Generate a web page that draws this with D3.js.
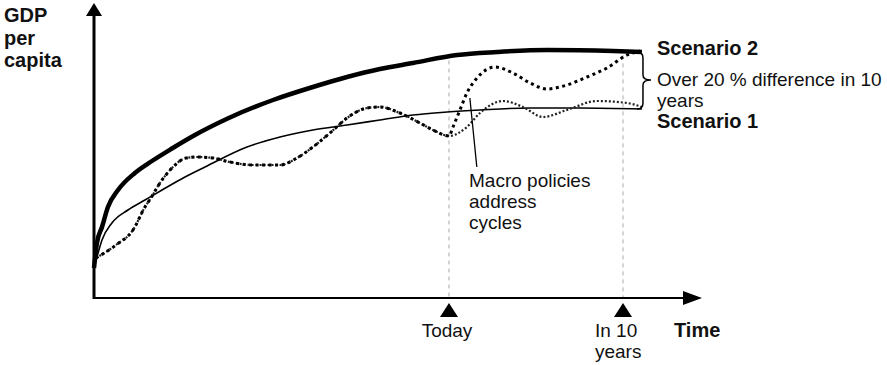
<!DOCTYPE html>
<html>
<head>
<meta charset="utf-8">
<script src="https://cdn.jsdelivr.net/npm/d3@7"></script>
<style>
  html, body { margin: 0; padding: 0; background: #fff; }
  svg { display: block; font-family: "Liberation Sans", Arial, sans-serif; }
</style>
</head>
<body>
<svg id="chart" width="887" height="365"></svg>
<script>
// Time in years relative to today; GDP per capita as an index.
const scenario2Time = [-20.4, -20.23, -19.94, -19.6, -19.02, -18.05, -17.07, -15.92, -14.6, -12.59, -10.11, -7.82, -5.86, -3.97, -2.07, 0.46, 2.76, 5.63, 9.43, 11.09];
const scenario2Gdp  = [12, 22, 28.4, 36.4, 43.2, 50, 54.8, 59.8, 65.2, 72.2, 79.2, 84.4, 88.4, 91.6, 94, 97.2, 98.4, 99.2, 98.8, 98.4];

const scenario1Time = [-20.4, -20.23, -19.94, -19.37, -18.45, -17.47, -16.49, -15.17, -14.02, -11.61, -9.71, -7.82, -5.86, -3.97, -2.07, -0.11, 1.78, 4.66, 7.53, 11.09];
const scenario1Gdp  = [12, 16.4, 23.2, 30, 35.2, 39.2, 43.2, 48.4, 52.4, 60.4, 64.4, 67.2, 69.2, 71.2, 73.2, 74.4, 75.2, 76, 76, 75.6];

// Actual cyclical path up to today (shared by both scenarios)
const pastCycleTime = [-20.29, -19.14, -18.16, -17.47, -17.13, -16.61, -15.86, -15.11, -14.43, -13.56, -12.59, -11.26, -9.71, -8.74, -7.82, -6.84, -5.86, -4.71, -3.97, -2.82, -1.67, -0.92, 0];
const pastCycleGdp  = [16, 21.2, 27.2, 36.4, 40, 46, 52.4, 56, 56.4, 56, 54.4, 53.2, 53.2, 56, 60.4, 66, 72, 76, 76.4, 74, 70, 67.2, 64.8];

// Cycle paths after today
const cycle2Time = [0, 0.23, 0.63, 1.03, 1.61, 2.64, 3.68, 4.66, 5.63, 6.78, 7.93, 9.08, 10.23, 10.98];
const cycle2Gdp  = [64.8, 68.4, 75.2, 82, 88, 92.4, 90, 86, 83.6, 85.2, 88.4, 92, 97.2, 98.8];
const cycle1Time = [0, 1.03, 1.78, 3.1, 4.25, 5.4, 6.78, 8.51, 10.23, 11.09];
const cycle1Gdp  = [64.8, 68.4, 74, 78.8, 76.4, 72.4, 75.2, 78.8, 78, 76.4];

// Axis markers
const markerTimes = [0, 10];
const markerLabels = [["Today"], ["In 10", "years"]];

const svg = d3.select("#chart");
const x = d3.scaleLinear().domain([-20.4, 14.54]).range([94, 702]);
const y = d3.scaleLinear().domain([0, 118]).range([298, 3]);

const line = d3.line().x(d => x(d[0])).y(d => y(d[1])).curve(d3.curveMonotoneX);
const zip = (a, b) => a.map((t, i) => [t, b[i]]);

const fontReg = 19, fontBold = 20;

// Vertical guide lines at marker times, from the upper scenario down to the axis
const s2 = zip(scenario2Time, scenario2Gdp);
const s2At = t => {
  const i = d3.bisector(d => d[0]).left(s2, t);
  const a = s2[Math.max(0, i - 1)], b = s2[Math.min(s2.length - 1, i)];
  return a[0] === b[0] ? a[1] : a[1] + (b[1] - a[1]) * (t - a[0]) / (b[0] - a[0]);
};
svg.selectAll("line.guide").data(markerTimes).join("line")
  .attr("class", "guide")
  .attr("x1", d => x(d)).attr("x2", d => x(d))
  .attr("y1", d => y(s2At(d)) + 4).attr("y2", y(0))
  .attr("stroke", "#aaa").attr("stroke-width", 1).attr("stroke-dasharray", "4,4");

// Scenario curves
svg.append("path").attr("d", line(zip(scenario1Time, scenario1Gdp)))
  .attr("fill", "none").attr("stroke", "#000").attr("stroke-width", 1.6);
svg.append("path").attr("d", line(s2))
  .attr("fill", "none").attr("stroke", "#000").attr("stroke-width", 4.5);

// Cycles: light dotted path (scenario 1) and heavy dotted path (scenario 2)
svg.append("path").attr("d", line(zip(pastCycleTime.concat(cycle1Time.slice(1)), pastCycleGdp.concat(cycle1Gdp.slice(1)))))
  .attr("fill", "none").attr("stroke", "#222").attr("stroke-width", 2.2).attr("stroke-dasharray", "2,2");
svg.append("path").attr("d", line(zip(pastCycleTime.concat(cycle2Time.slice(1)), pastCycleGdp.concat(cycle2Gdp.slice(1)))))
  .attr("fill", "none").attr("stroke", "#000").attr("stroke-width", 3).attr("stroke-dasharray", "3,3.5");

// Axes with arrowheads
svg.append("line").attr("x1", x(-20.4)).attr("x2", 690).attr("y1", y(0)).attr("y2", y(0))
  .attr("stroke", "#000").attr("stroke-width", 2);
svg.append("path").attr("d", `M${x(14.54)},${y(0)} L${x(14.54) - 19},${y(0) - 7} L${x(14.54) - 19},${y(0) + 7} Z`).attr("fill", "#000");
svg.append("line").attr("x1", x(-20.4)).attr("x2", x(-20.4)).attr("y1", y(0) + 1).attr("y2", 12)
  .attr("stroke", "#000").attr("stroke-width", 3);
svg.append("path").attr("d", `M${x(-20.4)},${y(118)} L${x(-20.4) - 8},${y(118) + 13} L${x(-20.4) + 8},${y(118) + 13} Z`).attr("fill", "#000");

// Marker triangles below the axis
svg.selectAll("path.marker").data(markerTimes).join("path")
  .attr("class", "marker")
  .attr("d", d => `M${x(d)},${y(0) + 5} L${x(d) - 9},${y(0) + 19} L${x(d) + 9},${y(0) + 19} Z`)
  .attr("fill", "#000");

// Marker labels
markerLabels.forEach((lines, i) => {
  const t = svg.append("text").attr("font-size", fontReg).attr("fill", "#111");
  if (i === 0) t.attr("text-anchor", "middle").attr("x", x(markerTimes[i]) - 2);
  else t.attr("x", x(markerTimes[i]) - 28);
  lines.forEach((s, j) => t.append("tspan").attr("x", t.attr("x")).attr("y", 337 + j * 20.5).text(s));
});

svg.append("text").attr("x", 674).attr("y", 337).attr("font-size", fontBold).attr("font-weight", "bold")
  .attr("fill", "#111").text("Time");

// Y axis title
const yt = svg.append("text").attr("font-size", fontBold).attr("font-weight", "bold").attr("fill", "#111");
["GDP", "per", "capita"].forEach((s, j) => yt.append("tspan").attr("x", 4).attr("y", 22 + j * 22.5).text(s));

// Brace between scenario endpoints
const endT = 11.09;
const bx = x(endT) + 1, yTop = y(s2At(endT)), yBot = y(scenario1Gdp[scenario1Gdp.length - 1]);
const yMid = (yTop + yBot) / 2 - 0.5;
svg.append("path")
  .attr("d", `M${bx - 6},${yTop} Q${bx},${yTop} ${bx},${yTop + 6} L${bx},${yMid - 5} Q${bx},${yMid} ${bx + 8},${yMid} Q${bx},${yMid} ${bx},${yMid + 5} L${bx},${yBot - 6} Q${bx},${yBot} ${bx - 6},${yBot}`)
  .attr("fill", "none").attr("stroke", "#000").attr("stroke-width", 1.5);

// Scenario labels and difference note
svg.append("text").attr("x", 657).attr("y", 55).attr("font-size", fontBold).attr("font-weight", "bold").attr("fill", "#111").text("Scenario 2");
svg.append("text").attr("x", 657).attr("y", 128).attr("font-size", fontBold).attr("font-weight", "bold").attr("fill", "#111").text("Scenario 1");
const note = svg.append("text").attr("font-size", fontReg).attr("fill", "#111");
["Over 20 % difference in 10", "years"].forEach((s, j) => note.append("tspan").attr("x", 657).attr("y", 86 + j * 21).text(s));

// Annotation for the policy response
svg.append("line").attr("x1", x(1.2)).attr("y1", y(80)).attr("x2", x(1.6)).attr("y2", y(52.4))
  .attr("stroke", "#000").attr("stroke-width", 1.3);
const ann = svg.append("text").attr("font-size", fontReg).attr("fill", "#111");
["Macro policies", "address", "cycles"].forEach((s, j) => ann.append("tspan").attr("x", 469).attr("y", 187 + j * 21).text(s));
</script>
</body>
</html>
